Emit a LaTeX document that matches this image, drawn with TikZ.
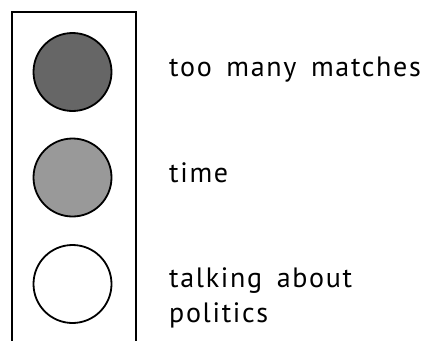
\documentclass[tikz,border=0pt]{standalone}
\usepackage{fontspec}
\setmainfont{PT Sans}[LetterSpace=6,WordSpace=1.6]
\definecolor{darklamp}{RGB}{102,102,102}
\definecolor{midlamp}{RGB}{153,153,153}
\begin{document}
\begin{tikzpicture}[x=1pt,y=-1pt,
  lamp/.style={circle,draw=black,line width=1.8pt,minimum size=78pt,inner sep=0pt},
  label/.style={anchor=base west,inner sep=0pt,align=left,font=\fontsize{28}{35}\selectfont}]
\useasboundingbox (0,0) rectangle (425,340);
\coordinate (bl) at (11.7,345);
\coordinate (tl) at (11.7,11.7);
\coordinate (tr) at (135.7,11.7);
\coordinate (br) at (135.7,345);
\draw[line width=1.8pt] (bl) -- (tl) -- (tr) -- (br);
\node[lamp,fill=darklamp] (red) at (72.5,72) {};
\node[lamp,fill=midlamp] (amber) at (72.5,177.5) {};
\node[lamp,fill=white] (green) at (72.5,284) {};
\node[label] (l1) at (169,76) {too many matches};
\node[label] (l2) at (169,182) {time};
\node[label] (l3) at (169,322) {talking about\\politics};
\end{tikzpicture}
\end{document}
